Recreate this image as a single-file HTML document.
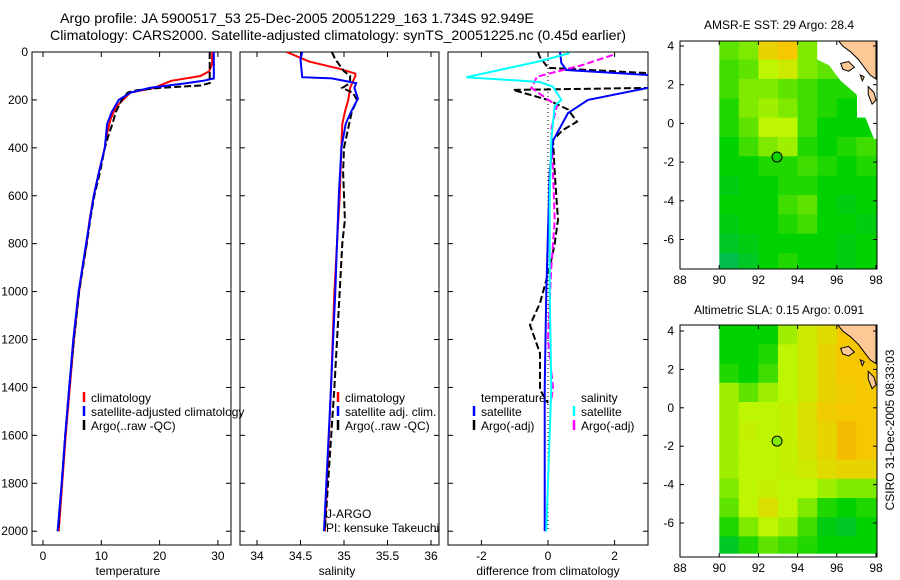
<!DOCTYPE html>
<html><head><meta charset="utf-8">
<style>
html,body{margin:0;padding:0;background:#fff;}
svg{display:block;font-family:"Liberation Sans",sans-serif;}
text{font-size:12px;fill:#000;}
</style></head>
<body>
<svg id="fig" width="900" height="580" viewBox="0 0 900 580" xmlns="http://www.w3.org/2000/svg">
<text x="60" y="23" textLength="474" lengthAdjust="spacingAndGlyphs" style="font-size:14px">Argo profile: JA 5900517_53 25-Dec-2005 20051229_163 1.734S 92.949E</text>
<text x="50" y="40" textLength="576" lengthAdjust="spacingAndGlyphs" style="font-size:14px">Climatology: CARS2000. Satellite-adjusted climatology: synTS_20051225.nc (0.45d earlier)</text>
<text x="779" y="29" text-anchor="middle">AMSR-E SST: 29 Argo: 28.4</text>
<text x="779" y="314" text-anchor="middle">Altimetric SLA: 0.15 Argo: 0.091</text>
<text transform="translate(894,430) rotate(-90)" text-anchor="middle">CSIRO 31-Dec-2005 08:33:03</text>
</svg>
<script>
// ---------- DATA ----------
const depthTicks=[0,200,400,600,800,1000,1200,1400,1600,1800,2000];
const tempTicks=[0,10,20,30];
const salTicks=[34,34.5,35,35.5,36];
const diffTicks=[-2,0,2];
const lonTicks=[88,90,92,94,96,98];
const latTicks=[4,2,0,-2,-4,-6];

const tClimDepth=[0,50,80,100,120,150,170,200,230,280,350,400,500,600,700,800,900,1000,1200,1400,1600,1800,2000];
const tClimVal=[29,29,28.5,27,22,19,15,13.7,12.5,11.6,10.9,10.6,9.6,8.7,8,7.5,6.8,6.2,5.3,4.6,3.9,3.3,2.7];
const tSatDepth=[0,110,120,130,150,170,200,250,300,400,500,600,800,1000,1200,1400,1600,1800,2000];
const tSatVal=[29.3,29.3,27.5,24.7,18.3,15,13,11.8,11,10.6,9.6,8.7,7.4,6.1,5.2,4.5,3.8,3.2,2.5];
const tArgoDepth=[0,130,140,150,160,170,200,250,300,350,400,500,600,700,800,1000,1200,1400,1600,1800,2000];
const tArgoVal=[28.6,28.6,27,20,16,14.5,13.5,12.5,11.9,11.2,10.6,9.8,8.8,8.1,7.5,6.2,5.3,4.5,3.8,3.2,2.6];

const sClimDepth=[0,40,70,90,100,150,200,250,300,400,600,800,1000,1400,2000];
const sClimVal=[34.34,34.6,34.95,35.13,35.13,35.07,35.05,35.01,34.98,34.97,34.95,34.92,34.89,34.85,34.78];
const sSatDepth=[0,30,105,110,130,150,195,250,300,400,600,800,1000,1400,2000];
const sSatVal=[34.52,34.5,34.52,34.86,35.14,35.12,35.16,35.08,35.02,34.97,34.94,34.92,34.9,34.85,34.77];
const sArgoDepth=[0,30,80,100,130,150,170,200,250,300,400,500,600,700,800,1000,1400,2000];
const sArgoVal=[34.86,34.9,35.0,35.07,35.07,34.98,35.1,35.15,35.09,35.06,35.0,34.99,35.0,35.01,34.98,34.95,34.89,34.78];

const dTSatDepth=[0,45,75,96,110,140,150,200,255,370,500,1000,1400,2000];
const dTSatVal=[0.36,0.4,0.55,3,5,5,3,1.2,0.6,0.15,0.05,-0.05,-0.1,-0.1];
const dTArgoDepth=[0,20,66,88,120,150,158,200,240,291,325,367,500,600,700,800,900,1048,1140,1257,1410,1465];
const dTArgoVal=[-0.3,-0.25,0,3,5,3,-1.05,0,0.6,0.87,0.45,0.15,0.2,0.25,0.3,0.2,0.05,-0.24,-0.54,-0.24,-0.24,0];
const dSSatDepth=[5,40,105,125,145,200,225,367,600,1000,1400,2000];
const dSSatVal=[0.65,-0.3,-2.45,-0.25,0.15,0.4,0.2,0.1,0.05,0.05,0.1,-0.05];
const dSArgoDepth=[12,54,103,150,225,320,500,700,900,1200,1400,1450];
const dSArgoVal=[1.95,1.05,-0.33,-0.5,0.27,0.1,0.15,0.2,0.1,0,0.15,0.1];

// maps: 1-degree cells, rows lat 4.3 -> -7.7, cols lon 90 -> 98 ; null = no data
const sstGrid=[
[0.45,0.5,0.75,0.8,0.5,0.45,null,null],
[0.4,0.45,0.6,0.65,0.5,0.45,0.4,null],
[0.4,0.5,0.5,0.45,0.4,0.35,0.35,null],
[0.35,0.5,0.55,0.5,0.4,0.35,0.3,null],
[0.35,0.45,0.6,0.6,0.4,0.3,0.3,0.3],
[0.3,0.4,0.5,0.55,0.35,0.3,0.35,0.4],
[0.3,0.3,0.35,0.35,0.4,0.35,0.3,0.35],
[0.25,0.3,0.3,0.35,0.35,0.3,0.3,0.3],
[0.3,0.3,0.3,0.4,0.45,0.3,0.25,0.3],
[0.25,0.3,0.3,0.35,0.4,0.3,0.3,0.25],
[0.2,0.25,0.3,0.3,0.3,0.3,0.25,0.3],
[0.1,0.2,0.3,0.35,0.3,0.3,0.25,0.3]];
const slaGrid=[
[0.3,0.3,0.3,0.55,0.65,0.72,0.8,0.8],
[0.3,0.3,0.35,0.6,0.65,0.75,0.8,0.82],
[0.35,0.3,0.4,0.6,0.65,0.75,0.8,0.8],
[0.55,0.45,0.55,0.6,0.65,0.75,0.78,0.8],
[0.55,0.6,0.6,0.62,0.7,0.78,0.8,0.8],
[0.55,0.62,0.6,0.62,0.7,0.75,0.85,0.8],
[0.55,0.6,0.6,0.62,0.68,0.75,0.85,0.8],
[0.55,0.6,0.6,0.62,0.65,0.72,0.75,0.75],
[0.5,0.6,0.62,0.6,0.6,0.55,0.5,0.5],
[0.45,0.6,0.7,0.6,0.5,0.35,0.3,0.35],
[0.35,0.5,0.6,0.55,0.4,0.25,0.2,0.3],
[0.2,0.35,0.45,0.4,0.35,0.3,0.3,0.3]];
const argoPos=[92.95,-1.734];
const sstArgoVal=0.32, slaArgoVal=0.5;

// ---------- DRAW ----------
const NS="http://www.w3.org/2000/svg";
const svg=document.getElementById('fig');
function el(tag,attrs,parent){const e=document.createElementNS(NS,tag);for(const k in attrs)e.setAttribute(k,attrs[k]);(parent||svg).appendChild(e);return e;}
const PT=52,PB=545;
const yD=d=>PT+d*0.2396;
function mkX(v0,px0,pxPerUnit){return v=>px0+(v-v0)*pxPerUnit;}
const panels=[
 {name:'temperature-panel',L:32,R:231,x:mkX(0,43,5.83),ticks:tempTicks,label:'temperature',lx:128},
 {name:'salinity-panel',L:240,R:439,x:mkX(34,257,87),ticks:salTicks,label:'salinity',lx:337},
 {name:'difference-panel',L:448,R:648,x:mkX(0,548,33.3),ticks:diffTicks,label:'difference from climatology',lx:548}];

panels.forEach((p,i)=>{
 const g=el('g',{});
 
 
 const cid='clip'+i;
 const cp=el('clipPath',{id:cid},g);el('rect',{x:p.L,y:PT,width:p.R-p.L,height:PB-PT},cp);
 p.g=g;p.clip=cid;
 el('rect',{x:p.L,y:PT,width:p.R-p.L,height:PB-PT,fill:'none',stroke:'#000','stroke-width':1},g);
 p.ticks.forEach(t=>{const x=p.x(t);
  el('line',{x1:x,x2:x,y1:PB,y2:PB-5,stroke:'#000'},g);el('line',{x1:x,x2:x,y1:PT,y2:PT+5,stroke:'#000'},g);
  const tx=el('text',{x:x,y:PB+15,'text-anchor':'middle'},g);tx.textContent=t;
  
  });
 depthTicks.forEach(d=>{const y=yD(d);
  el('line',{x1:p.L,x2:p.L+5,y1:y,y2:y,stroke:'#000'},g);el('line',{x1:p.R,x2:p.R-5,y1:y,y2:y,stroke:'#000'},g);
  if(i==0){const tx=el('text',{x:28,y:y+4,'text-anchor':'end'},g);tx.textContent=d;
   
   }});
 const lb=el('text',{x:p.lx,y:575,'text-anchor':'middle'},g);lb.textContent=p.label;
 
 
});
function line(p,ds,vs,color,dash,w,name){
 const pts=ds.map((d,k)=>p.x(vs[k]).toFixed(1)+','+yD(d).toFixed(1)).join(' ');
 const pl=el('polyline',{points:pts,fill:'none',stroke:color,'stroke-width':w||2,'clip-path':'url(#'+p.clip+')'},p.g);
 if(dash)pl.setAttribute('stroke-dasharray',dash);
 
 
}
const zl=el('line',{x1:panels[2].x(0),x2:panels[2].x(0),y1:PT,y2:yD(2000),stroke:'#000','stroke-dasharray':'1,3'},panels[2].g);


line(panels[0],tClimDepth,tClimVal,'#f00',null,2,'temp-climatology-line');
line(panels[0],tArgoDepth,tArgoVal,'#000','7,3',2,'temp-argo-line');
line(panels[0],tSatDepth,tSatVal,'#00f',null,2,'temp-satellite-line');
line(panels[1],sClimDepth,sClimVal,'#f00',null,2,'sal-climatology-line');
line(panels[1],sArgoDepth,sArgoVal,'#000','7,3',2,'sal-argo-line');
line(panels[1],sSatDepth,sSatVal,'#00f',null,2,'sal-satellite-line');
line(panels[2],dTArgoDepth,dTArgoVal,'#000','7,3',2,'diff-temp-argo-line');
line(panels[2],dSArgoDepth,dSArgoVal,'#f0f','7,3',2,'diff-sal-argo-line');
line(panels[2],dTSatDepth,dTSatVal,'#00f',null,2,'diff-temp-satellite-line');
line(panels[2],dSSatDepth,dSSatVal,'#0ff',null,2,'diff-sal-satellite-line');

function legend(parent,x,y,color,label,name){
 const g=el('g',{},parent);
 
 
 el('line',{x1:x,x2:x,y1:y-10,y2:y,stroke:color,'stroke-width':2.5},g);
 const t=el('text',{x:x+7,y:y},g);t.textContent=label;
}
legend(panels[0].g,84,402,'#f00','climatology','legend-climatology');
legend(panels[0].g,84,416,'#00f','satellite-adjusted climatology','legend-satellite-adjusted');
legend(panels[0].g,84,430,'#000','Argo(..raw -QC)','legend-argo');
legend(panels[1].g,338,402,'#f00','climatology','legend-climatology');
legend(panels[1].g,338,416,'#00f','satellite adj. clim.','legend-satellite-adjusted');
legend(panels[1].g,338,430,'#000','Argo(..raw -QC)','legend-argo');
let t=el('text',{x:481,y:402},panels[2].g);t.textContent='temperature';
t=el('text',{x:581,y:402},panels[2].g);t.textContent='salinity';
legend(panels[2].g,474,416,'#00f','satellite','legend-temp-satellite');
legend(panels[2].g,474,430,'#000','Argo(-adj)','legend-temp-argo');
legend(panels[2].g,574,416,'#0ff','satellite','legend-sal-satellite');
legend(panels[2].g,574,430,'#f0f','Argo(-adj)','legend-sal-argo');
t=el('text',{x:326,y:518},panels[1].g);t.textContent='J-ARGO';
t=el('text',{x:326,y:532},panels[1].g);t.textContent='PI: kensuke Takeuchi';

const cstops=[[0,[0,180,110]],[0.3,[0,210,0]],[0.6,[190,245,0]],[0.8,[245,200,0]],[1,[240,150,0]]];
function cmap(v){for(let k=1;k<cstops.length;k++){if(v<=cstops[k][0]){const a=cstops[k-1],b=cstops[k],f=(v-a[0])/(b[0]-a[0]);
 return 'rgb('+a[1].map((c,j)=>Math.round(c+(b[1][j]-c)*f)).join(',')+')';}}return 'rgb(240,150,0)';}

function drawMap(name,top,bot,lat4y,latScale,grid,argoVal,whitePoly,idx){
 const g=el('g',{});
 
 
 const L=680,R=877;
 const xL=lon=>680+(lon-88)*19.6;
 const yL=lat=>lat4y+(4-lat)*latScale;
 const cid='mclip'+idx;const cp=el('clipPath',{id:cid},g);el('rect',{x:L,y:top,width:R-L,height:bot-top},cp);
 const cg=el('g',{'clip-path':'url(#'+cid+')'},g);
 grid.forEach((row,r)=>row.forEach((v,c)=>{if(v===null)return;
  const lat0=4.3-r;const x0=xL(90+c),x1=xL(91+c),y0=yL(lat0),y1=yL(lat0-1);
  const rc=el('rect',{x:x0.toFixed(1),y:y0.toFixed(1),width:(x1-x0+0.6).toFixed(1),height:(y1-y0+0.6).toFixed(1),fill:cmap(v)},cg);
  
  }));
 el('rect',{x:L,y:yL(-7.6),width:R-L,height:bot-yL(-7.6),fill:'#fff'},cg);
 el('rect',{x:L,y:top,width:xL(90)-L,height:bot-top,fill:'#fff'},cg);
 const P=a=>a.map(q=>xL(q[0]).toFixed(1)+','+yL(q[1]).toFixed(1)).join(' ');
 if(whitePoly)el('polygon',{points:P(whitePoly),fill:'#fff'},cg);
 const land=el('polygon',{points:P([[95.9,4.5],[96.3,4.0],[96.7,3.7],[97.1,3.3],[97.4,2.9],[97.7,2.5],[98,2.3],[98,4.5]]),fill:'#fcc896',stroke:'#000','stroke-width':1},cg);
 
 
 el('polygon',{points:P([[96.2,3.1],[96.6,3.2],[96.9,2.9],[96.6,2.7],[96.3,2.8]]),fill:'#fcc896',stroke:'#000'},cg);
 el('polygon',{points:P([[97.6,1.9],[97.9,1.6],[98,1.2],[97.8,1.0],[97.6,1.5]]),fill:'#fcc896',stroke:'#000'},cg);
 el('polygon',{points:P([[97.2,2.5],[97.4,2.4],[97.3,2.2]]),fill:'#fcc896',stroke:'#000'},cg);
 el('rect',{x:L,y:top,width:R-L,height:bot-top,fill:'none',stroke:'#000'},g);
 lonTicks.forEach(lo=>{const x=xL(lo);el('line',{x1:x,x2:x,y1:bot,y2:bot-4,stroke:'#000'},g);el('line',{x1:x,x2:x,y1:top,y2:top+4,stroke:'#000'},g);
  const tx=el('text',{x:x,y:bot+15,'text-anchor':'middle'},g);tx.textContent=lo;
  
  });
 latTicks.forEach(la=>{const y=yL(la);el('line',{x1:L,x2:L+4,y1:y,y2:y,stroke:'#000'},g);el('line',{x1:R,x2:R-4,y1:y,y2:y,stroke:'#000'},g);
  const tx=el('text',{x:L-6,y:y+4,'text-anchor':'end'},g);tx.textContent=la;
  
  });
 const c=el('circle',{cx:xL(argoPos[0]),cy:yL(argoPos[1]),r:5,fill:cmap(argoVal),stroke:'#000'},g);
 
 
}
drawMap('sst-map',41,269,46,19.35,sstGrid,sstArgoVal,[[95.0,4.5],[95.0,3.3],[95.6,3.0],[96.2,2.2],[97.0,1.5],[97.5,0.2],[97.9,-0.8],[98.2,-0.8],[98.2,4.5]],0);
drawMap('sla-map',325,557,331,19.2,slaGrid,slaArgoVal,null,1);
</script>
</body></html>
